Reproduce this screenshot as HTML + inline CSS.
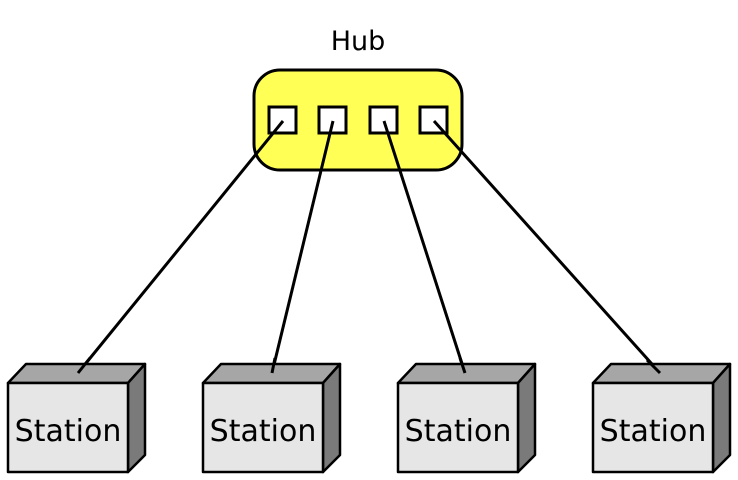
<!DOCTYPE html>
<html><head><style>body{margin:0;background:#fff}svg{display:block}</style></head><body>
<svg width="738" height="480" viewBox="0 0 738 480" xmlns="http://www.w3.org/2000/svg" font-family="'DejaVu Sans','Liberation Sans',sans-serif">
<text x="358" y="50" font-size="27" text-anchor="middle">Hub</text>
<rect x="254" y="70" width="208" height="100" rx="26" fill="#ffff55" stroke="#000" stroke-width="3"/>
<g fill="#fff" stroke="#000" stroke-width="3">
<rect x="269" y="107" width="27" height="26"/><rect x="319" y="107" width="27" height="26"/>
<rect x="370" y="107" width="27" height="26"/><rect x="420" y="107" width="27" height="26"/>
</g>
<g stroke="#000" stroke-width="3">
<line x1="283" y1="121" x2="78" y2="373"/><line x1="333" y1="121" x2="272" y2="373"/>
<line x1="384" y1="121" x2="465" y2="373"/><line x1="434" y1="121" x2="660" y2="373"/>
</g>
<g id="s" stroke="#000" stroke-width="2.5" stroke-linejoin="round">
<polygon points="8,383 26,364 145,364 128,383" fill="#a6a6a6"/>
<polygon points="128,383 145,364 145,455 128,472" fill="#7a7a7a"/>
<rect x="8" y="383" width="120" height="89" fill="#e6e6e6"/>
</g>
<use href="#s" x="195"/><use href="#s" x="390"/><use href="#s" x="585"/>
<g font-size="30" text-anchor="middle">
<text x="68" y="441">Station</text><text x="263" y="441">Station</text>
<text x="458" y="441">Station</text><text x="653" y="441">Station</text>
</g>
<g stroke="#000" stroke-width="3">
<line x1="90" y1="358" x2="78" y2="373"/><line x1="275" y1="358" x2="272" y2="373"/>
<line x1="460" y1="358" x2="465" y2="373"/><line x1="647" y1="360" x2="660" y2="373"/>
</g>
</svg>
</body></html>
